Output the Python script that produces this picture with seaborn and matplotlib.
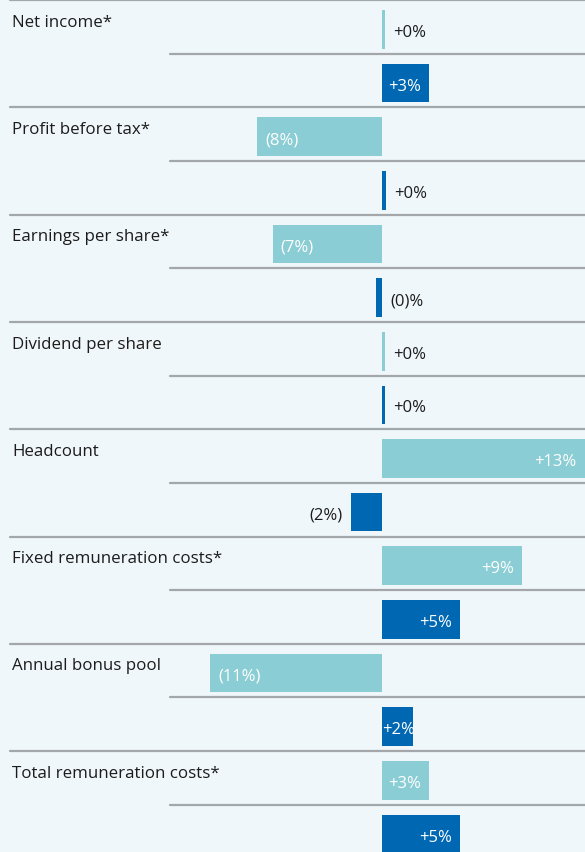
import matplotlib
matplotlib.use("Agg")
import matplotlib.pyplot as plt
import matplotlib.transforms as mtransforms
import pandas as pd
import seaborn as sns

# Year-on-year change (%) per metric: light = first series, dark = second series
categories = [
    "Net income*",
    "Profit before tax*",
    "Earnings per share*",
    "Dividend per share",
    "Headcount",
    "Fixed remuneration costs*",
    "Annual bonus pool",
    "Total remuneration costs*",
]
light_values = [0.22, -8, -7, 0.22, 13, 9, -11, 3]
dark_values = [3, 0.24, -0.4, 0.22, -2, 5, 2, 5]
series_names = ["light", "dark"]

BG = "#f0f7fa"
LIGHT = "#8acdd4"
DARK = "#0067b2"
LINE = "#a3a7a9"
TEXT = "#1c1c1c"

W_PX, H_PX, DPI = 585, 852, 100
PX_PER_PCT = 15.6
ZERO_PX = 382
ROW_PX = 53.65
ROW_OFFSET = 0.546  # distance from a row's top edge to its bar centre, in rows


def fmt(v):
    n = int(round(abs(v)))
    if v >= 0:
        return f"+{n}%"
    if n == 0:
        return "(0)%"
    return f"({n}%)"


rows = []
for i, cat in enumerate(categories):
    rows.append({"row": f"{i}-a", "series": series_names[0], "value": light_values[i], "cat": cat})
    rows.append({"row": f"{i}-b", "series": series_names[1], "value": dark_values[i], "cat": cat})
df = pd.DataFrame(rows)

sns.set_theme(style="white")
plt.rcParams["font.family"] = ["Open Sans", "DejaVu Sans"]

fig = plt.figure(figsize=(W_PX / DPI, H_PX / DPI), dpi=DPI, facecolor=BG)
ax = fig.add_axes([0, 0, 1, 1])
ax.set_facecolor(BG)

sns.barplot(
    data=df, x="value", y="row", hue="series", order=list(df["row"]),
    hue_order=series_names, palette={"light": LIGHT, "dark": DARK},
    dodge=False, width=0.72, orient="h", linewidth=0, saturation=1,
    legend=False, ax=ax,
)

x_left = -ZERO_PX / PX_PER_PCT
x_right = (W_PX - ZERO_PX) / PX_PER_PCT
ax.set_xlim(x_left, x_right)
n_rows_visible = H_PX / ROW_PX
ax.set_ylim(n_rows_visible - ROW_OFFSET, -ROW_OFFSET)
ax.set_axis_off()

# Separators: full-width between metrics, indented between the two series
for k in range(len(categories)):
    y_full = 2 * k - ROW_OFFSET
    y_inner = 2 * k + 1 - ROW_OFFSET
    ax.axhline(y_full, xmin=10 / W_PX, xmax=1, color=LINE, lw=1.6, zorder=1)
    ax.axhline(y_inner, xmin=170 / W_PX, xmax=1, color=LINE, lw=1.6, zorder=1)

# Metric names
name_tf = mtransforms.blended_transform_factory(ax.transAxes, ax.transData)
for i, cat in enumerate(categories):
    ax.text(12 / W_PX, 2 * i - 0.05, cat, transform=name_tf, fontsize=12.2,
            color=TEXT, va="baseline", ha="left")

# Value labels: inside the bar when they fit, otherwise next to it
fig.canvas.draw()
renderer = fig.canvas.get_renderer()
pad = 8 / PX_PER_PCT
tol = 3 / PX_PER_PCT
for j, r in df.iterrows():
    v = r["value"]
    label = fmt(v)
    t = ax.text(0, j + 0.03, label, fontsize=12, va="center_baseline", ha="left")
    tw = t.get_window_extent(renderer).width / PX_PER_PCT
    bar_w = abs(v)
    fits = (tw <= bar_w + tol) if v > 0 else (tw + pad <= bar_w)
    if fits:
        t.set_color("white")
        t.set_x(max(v - pad - tw, 0) if v > 0 else v + pad)
    else:
        t.set_color(TEXT)
        t.set_x(v - pad - tw if v < -0.5 else max(v, 0) + pad)
    t.set_zorder(5)

fig.savefig("out.png", dpi=DPI, facecolor=BG)
